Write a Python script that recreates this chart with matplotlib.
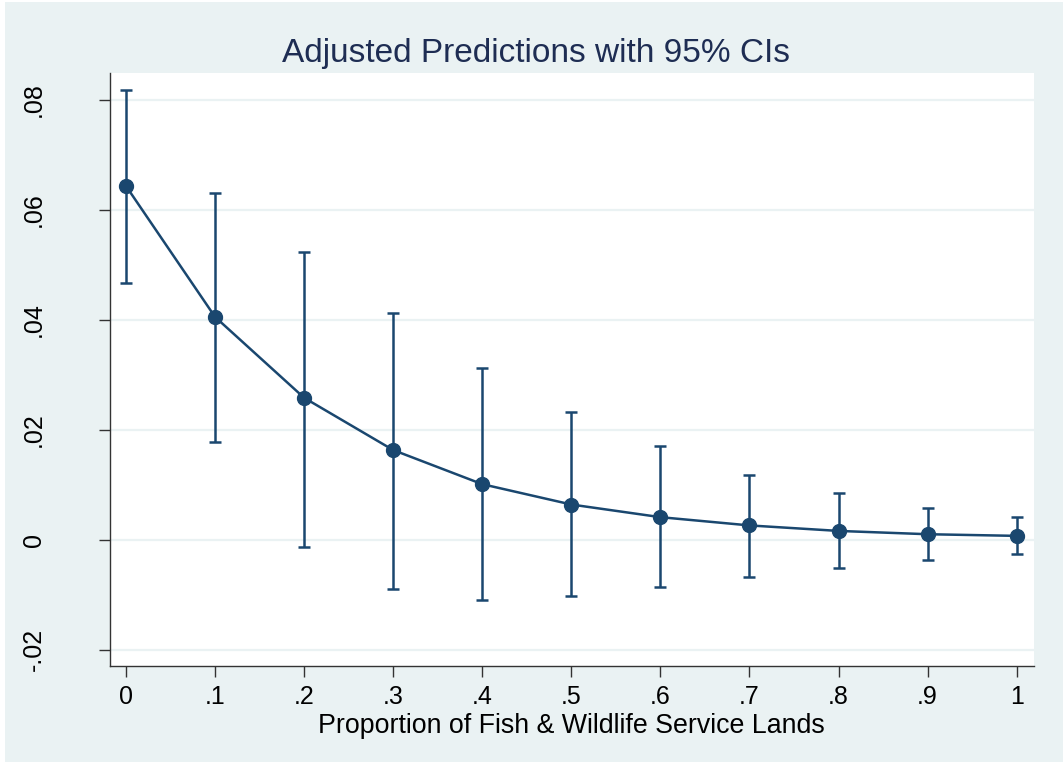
import numpy as np
import matplotlib.pyplot as plt
import matplotlib as mpl

mpl.rcParams.update({
    "font.family": "Liberation Sans",
    "font.size": 18,
})

# data
x = [0.0, 0.1, 0.2, 0.3, 0.4, 0.5, 0.6, 0.7, 0.8, 0.9, 1.0]
pred = [0.0643, 0.0405, 0.0258, 0.0163, 0.0101, 0.0064, 0.0041, 0.0026, 0.0016, 0.0010, 0.0007]
ci_hi = [0.0818, 0.0631, 0.0524, 0.0413, 0.0313, 0.0232, 0.0170, 0.0118, 0.0085, 0.0058, 0.0041]
ci_lo = [0.0467, 0.0178, -0.0013, -0.0090, -0.0109, -0.0103, -0.0086, -0.0067, -0.0051, -0.0037, -0.0026]
xticks = [0, 0.1, 0.2, 0.3, 0.4, 0.5, 0.6, 0.7, 0.8, 0.9, 1.0]
xticklabels = ["0", ".1", ".2", ".3", ".4", ".5", ".6", ".7", ".8", ".9", "1"]
yticks = [-0.02, 0, 0.02, 0.04, 0.06, 0.08]
yticklabels = ["-.02", "0", ".02", ".04", ".06", ".08"]

navy = "#1a476f"
bg = "#eaf2f3"
W, H = 1063, 771

fig = plt.figure(figsize=(W / 100, H / 100), dpi=100)
fig.patch.set_facecolor("white")
fig.patches.append(mpl.patches.Rectangle((5 / W, 9 / H), 1 - 5 / W, 1 - 11 / H,
                                         transform=fig.transFigure,
                                         facecolor=bg, edgecolor="none", zorder=-10))

ax = fig.add_axes([110 / W, (H - 666) / H, (1034 - 110) / W, (666 - 73) / H])
ax.set_facecolor("white")

pred = np.array(pred)
yerr = [pred - np.array(ci_lo), np.array(ci_hi) - pred]
ax.errorbar(x, pred, yerr=yerr, fmt="none", ecolor=navy, elinewidth=1.8,
            capsize=4, capthick=1.8, zorder=3)
ax.plot(x, pred, "-o", color=navy, lw=1.8, markersize=10, zorder=4)

ax.set_xlim(-0.018, 1.0195)
ax.set_ylim(-0.02296, 0.08486)
ax.set_xticks(xticks)
ax.set_xticklabels(xticklabels)
ax.set_yticks(yticks)
ax.set_yticklabels(yticklabels, rotation=90, va="center")
ax.yaxis.grid(True, color=bg, lw=1.6)
ax.set_axisbelow(True)

for s in ["top", "right"]:
    ax.spines[s].set_visible(False)
for s in ["left", "bottom"]:
    ax.spines[s].set_color("#333333")
    ax.spines[s].set_linewidth(1.0)
ax.tick_params(length=8, width=1.0, color="#333333")
ax.tick_params(axis="x", pad=6)
ax.tick_params(axis="y", pad=38)

# axis title and graph title placed in figure pixels, Stata-style
fig.text(571 / W, 1 - 733 / H, "Proportion of Fish & Wildlife Service Lands",
         fontsize=19.3, ha="center", va="baseline")
fig.text(536 / W, 1 - 62 / H, "Adjusted Predictions with 95% CIs", color="#1e2d53",
         fontsize=24, ha="center", va="baseline")

fig.savefig("out.png", dpi=100)
